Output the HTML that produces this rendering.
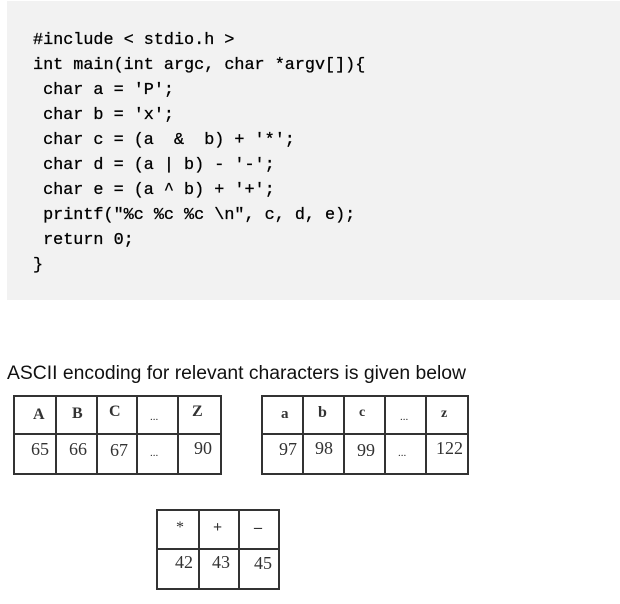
<!DOCTYPE html>
<html><head><meta charset="utf-8"><style>
html,body{margin:0;padding:0;background:#fff;width:620px;height:604px;overflow:hidden}
.code{position:absolute;left:7px;top:1px;width:613px;height:299px;background:#f2f2f2}
pre{position:absolute;left:33px;top:28px;margin:0;font:16.8px/25px "Liberation Mono",monospace;color:#000;-webkit-text-stroke:0.3px #000}
svg{position:absolute;left:0;top:0}
</style></head><body>
<div class="code"></div>
<pre>#include &lt; stdio.h &gt;
int main(int argc, char *argv[]){
 char a = 'P';
 char b = 'x';
 char c = (a  &amp;  b) + '*';
 char d = (a | b) - '-';
 char e = (a ^ b) + '+';
 printf("%c %c %c \n", c, d, e);
 return 0;
}</pre>
<svg width="620" height="604" font-family="Liberation Serif, serif" font-size="16" fill="#333">
<text x="7" y="379" font-family="Liberation Sans, sans-serif" font-size="19" fill="#111" textLength="459" lengthAdjust="spacingAndGlyphs">ASCII encoding for relevant characters is given below</text>
<g stroke="#333" stroke-width="2" fill="none">
<rect x="14" y="396" width="207" height="78"/><line x1="14" y1="434" x2="221" y2="434"/>
<line x1="56" y1="396" x2="56" y2="474"/><line x1="97" y1="396" x2="97" y2="474"/><line x1="137" y1="396" x2="137" y2="474"/><line x1="178" y1="396" x2="178" y2="474"/>
<rect x="262" y="396" width="206" height="78"/><line x1="262" y1="434" x2="468" y2="434"/>
<line x1="303" y1="396" x2="303" y2="474"/><line x1="344" y1="396" x2="344" y2="474"/><line x1="385" y1="396" x2="385" y2="474"/><line x1="426" y1="396" x2="426" y2="474"/>
<rect x="157" y="510" width="122" height="79"/><line x1="157" y1="549" x2="279" y2="549"/>
<line x1="199" y1="510" x2="199" y2="589"/><line x1="239" y1="510" x2="239" y2="589"/>
</g>
<g font-weight="bold" font-size="16">
<text x="33" y="419">A</text><text x="72" y="418">B</text><text x="109" y="416">C</text><text x="150" y="420" font-weight="normal" font-size="11">...</text><text x="192" y="416">Z</text>
<text x="281" y="418" font-size="15">a</text><text x="318" y="417">b</text><text x="359" y="416" font-size="14">c</text><text x="400" y="420" font-weight="normal" font-size="11">...</text><text x="441" y="417" font-size="14">z</text>
<text x="176" y="532" font-weight="normal">*</text><text x="213" y="532">+</text><text x="254" y="532">–</text>
</g>
<g font-size="18">
<text x="31" y="455">65</text><text x="69" y="455">66</text><text x="110" y="456">67</text><text x="150" y="456" font-size="11">...</text><text x="194" y="454">90</text>
<text x="279" y="455">97</text><text x="315" y="454">98</text><text x="357" y="456">99</text><text x="398" y="456" font-size="11">...</text><text x="436" y="454">122</text>
<text x="175" y="568">42</text><text x="212" y="568">43</text><text x="254" y="569">45</text>
</g>
</svg>
</body></html>
